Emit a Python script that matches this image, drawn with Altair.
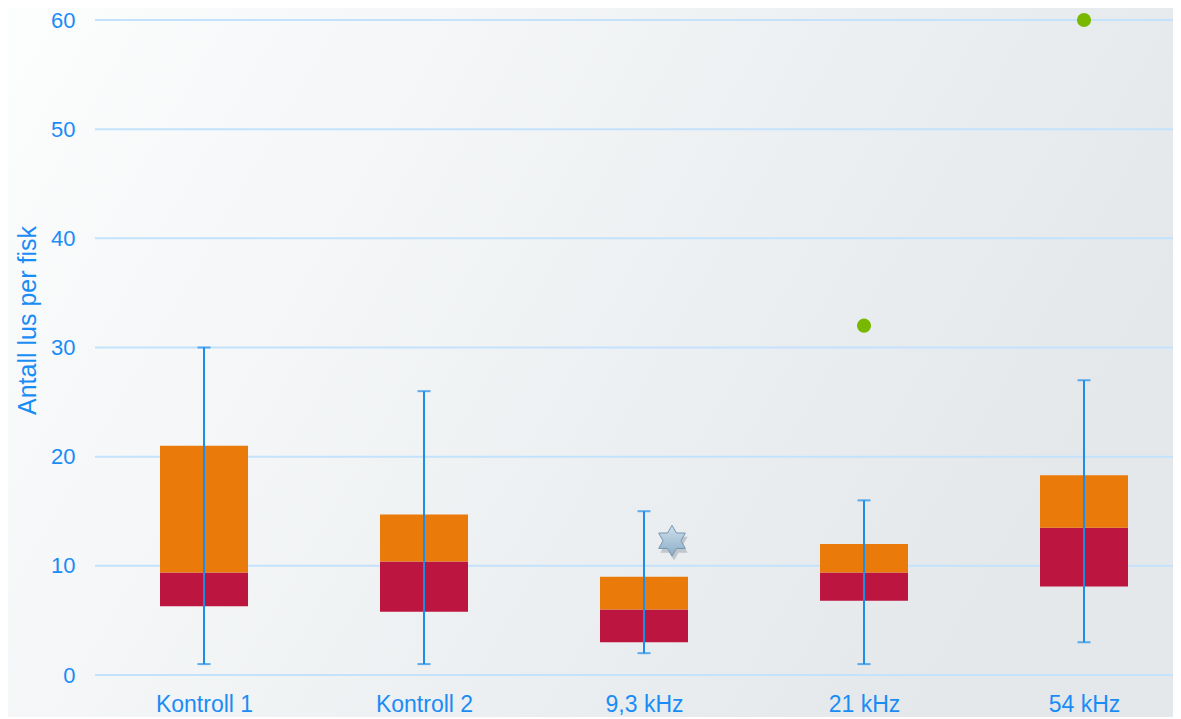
import math
import json
import altair as alt
import pandas as pd

# ---------------- data ----------------
categories = ["Kontroll 1", "Kontroll 2", "9,3 kHz", "21 kHz", "54 kHz"]
whisker_low = [1, 1, 2, 1, 3]
q1 = [6.3, 5.8, 3.0, 6.8, 8.1]
median = [9.4, 10.4, 6.0, 9.4, 13.5]
q3 = [21.0, 14.7, 9.0, 12.0, 18.3]
whisker_high = [30, 26, 15, 16, 27]

outlier_cat = ["21 kHz", "54 kHz"]
outlier_val = [32, 60]

star_cat = ["9,3 kHz"]
star_val = [12.3]

y_ticks = [0, 10, 20, 30, 40, 50, 60]

# ---------------- styling ----------------
W, H = 1078, 655
PAD = {"left": 87, "top": 12, "right": 0, "bottom": 42}
BLUE = "#1c8de9"
TEXT = "#1a8cf5"
ORANGE = "#ea7b0a"
CRIMSON = "#bc153f"
GREEN = "#78b800"
GRID = "#c4e2fb"
FONT = "Liberation Sans"

idx = list(range(len(categories)))
box = pd.DataFrame({
    "idx": idx, "cat": categories, "low": whisker_low, "q1": q1,
    "median": median, "q3": q3, "high": whisker_high,
})
out = pd.DataFrame({"idx": [categories.index(c) for c in outlier_cat], "v": outlier_val})
star = pd.DataFrame({"idx": [categories.index(c) for c in star_cat], "v": star_val})
grid = pd.DataFrame({"v": y_ticks})
bg = pd.DataFrame({"a": [0]})

# six-pointed star symbol path (unit coordinates)
pts = []
for k in range(12):
    ang = math.radians(-90 + 30 * k)
    r = 1.0 if k % 2 == 0 else 0.58
    pts.append(f"{r * math.cos(ang):.3f},{r * math.sin(ang):.3f}")
STAR = "M" + "L".join(pts) + "Z"

label_expr = json.dumps(categories) + "[datum.value]"

xscale = alt.Scale(domain=[-0.4955, 4.4045], nice=False, zero=False, padding=0)
yscale = alt.Scale(domain=[0, 60], nice=False, zero=False, padding=0)

x_axis = alt.Axis(
    values=idx, labelExpr=label_expr, grid=False, domain=False, ticks=False,
    title=None, labelFont=FONT, labelFontSize=23, labelColor=TEXT,
    labelPadding=18, labelAngle=0, zindex=1,
)
y_axis = alt.Axis(
    values=y_ticks, grid=False, domain=False, ticks=False,
    title="Antall lus per fisk", labelFont=FONT, labelFontSize=22,
    labelColor=TEXT, labelPadding=20, titleFont=FONT, titleFontSize=25,
    titleFontWeight="normal", titleColor=TEXT, titlePadding=10, titleY=300,
    zindex=1,
)


def X():
    return alt.X("idx:Q", scale=xscale, axis=x_axis)


def Y(field):
    return alt.Y(field, scale=yscale, axis=y_axis)


background = alt.Chart(bg).mark_rect(
    fill={
        "gradient": "linear",
        "x1": 0, "y1": 0, "x2": 1, "y2": 0.35,
        "stops": [
            {"offset": 0, "color": "#fcfdfd"},
            {"offset": 0.35, "color": "#f4f6f7"},
            {"offset": 1, "color": "#e4e8eb"},
        ],
    }
).encode(
    x=alt.value(-PAD["left"]), x2=alt.value(W + PAD["right"]),
    y=alt.value(-PAD["top"]), y2=alt.value(H + PAD["bottom"]),
)

gridlines = alt.Chart(grid).mark_rule(color=GRID, strokeWidth=2).encode(
    y=Y("v:Q")
)

lower = alt.Chart(box).mark_bar(size=88, color=CRIMSON).encode(
    x=X(), y=Y("q1:Q"), y2="median:Q",
)
upper = alt.Chart(box).mark_bar(size=88, color=ORANGE).encode(
    x=X(), y=Y("median:Q"), y2="q3:Q",
)

whisk = alt.Chart(box).mark_rule(color=BLUE, strokeWidth=2).encode(
    x=X(), y=Y("low:Q"), y2="high:Q",
)
cap_lo = alt.Chart(box).mark_tick(color=BLUE, orient="horizontal", size=13, thickness=2).encode(
    x=X(), y=Y("low:Q"),
)
cap_hi = alt.Chart(box).mark_tick(color=BLUE, orient="horizontal", size=13, thickness=2).encode(
    x=X(), y=Y("high:Q"),
)

outliers = alt.Chart(out).mark_circle(size=200, color=GREEN, opacity=1).encode(
    x=X(), y=Y("v:Q"),
)

star_shadow = alt.Chart(star).mark_point(
    shape=STAR, size=1000, filled=True, fill="#6f7d8a", opacity=0.35,
    strokeWidth=0, xOffset=30, yOffset=4,
).encode(x=X(), y=Y("v:Q"))

star_mark = alt.Chart(star).mark_point(
    shape=STAR, size=950, filled=True, opacity=1,
    fill={
        "gradient": "linear", "x1": 0, "y1": 0, "x2": 0, "y2": 1,
        "stops": [
            {"offset": 0, "color": "#cfe0ed"},
            {"offset": 1, "color": "#8aacc6"},
        ],
    },
    stroke="#7896b0", strokeWidth=1, xOffset=28,
).encode(x=X(), y=Y("v:Q"))

chart = alt.layer(
    background, gridlines, lower, upper, whisk, cap_lo, cap_hi,
    outliers, star_shadow, star_mark,
).properties(
    width=W, height=H,
    autosize=alt.AutoSizeParams(type="none"),
    padding=PAD,
    background="#f8f9fa",
).configure_view(stroke=None)

chart.save("out.html", embed_options={"renderer": "svg", "actions": False})
